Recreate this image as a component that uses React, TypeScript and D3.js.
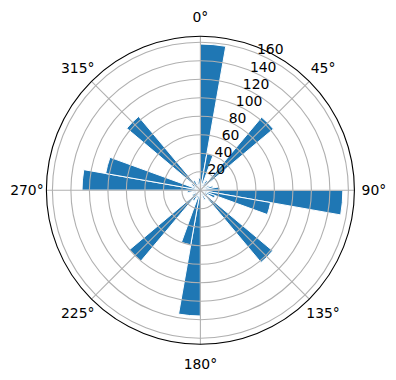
import React from "react";
import * as d3 from "d3";

const binStartDeg: number[] = d3.range(0, 360, 10);
const counts: number[] = [158, 40, 8, 12, 103, 6, 10, 14, 21, 154, 77, 17, 9, 102, 7, 11, 5, 8, 136, 60, 9, 13, 100, 10, 6, 8, 14, 128, 104, 9, 11, 104, 12, 7, 10, 13];
const radialTicks: number[] = [20, 40, 60, 80, 100, 120, 140, 160];
const angleTicks: number[] = [0, 45, 90, 135, 180, 225, 270, 315];
const binWidthDeg = 10;
const rMaxValue = 166.5;

const W = 396, H = 380;
const cx = 200.4, cy = 190.2, R = 154;
const FONT = "'DejaVu Sans', sans-serif";
const FS = 13.9;

export default function App() {
  const r = d3.scaleLinear().domain([0, rMaxValue]).range([0, R]);
  const rad = (d: number) => (d * Math.PI) / 180;
  const arc = d3.arc<any>();
  const labelR = 173.5;
  const rLabelAngle = rad(22.5);
  return (
    <svg width={W} height={H} style={{ position: "absolute", left: 0, top: 0, background: "#fff" }}>
      <g transform={`translate(${cx},${cy})`}>
        {binStartDeg.map((a, i) => (
          <path
            key={i}
            d={arc({ innerRadius: 0, outerRadius: r(counts[i]), startAngle: rad(a), endAngle: rad(a + binWidthDeg) }) as string}
            fill="#1f77b4"
            stroke="#ffffff"
            strokeWidth={1}
          />
        ))}
        {radialTicks.map((t) => (
          <circle key={t} r={r(t)} fill="none" stroke="#b0b0b0" strokeWidth={1.1} />
        ))}
        {angleTicks.map((a) => (
          <line key={a} x1={0} y1={0} x2={R * Math.sin(rad(a))} y2={-R * Math.cos(rad(a))} stroke="#b0b0b0" strokeWidth={1.1} />
        ))}
        <circle r={R} fill="none" stroke="#000" strokeWidth={1.1} />
        {angleTicks.map((a) => (
          <text
            key={"l" + a}
            x={labelR * Math.sin(rad(a))}
            y={-labelR * Math.cos(rad(a))}
            textAnchor="middle"
            dominantBaseline="central"
            fontFamily={FONT}
            fontSize={FS}
            fill="#000"
          >
            {a}°
          </text>
        ))}
        {radialTicks.map((t) => (
          <text
            key={"r" + t}
            x={r(t) * Math.sin(rLabelAngle)}
            y={-r(t) * Math.cos(rLabelAngle) + 1}
            textAnchor="start"
            fontFamily={FONT}
            fontSize={FS}
            fill="#000"
          >
            {t}
          </text>
        ))}
      </g>
    </svg>
  );
}
